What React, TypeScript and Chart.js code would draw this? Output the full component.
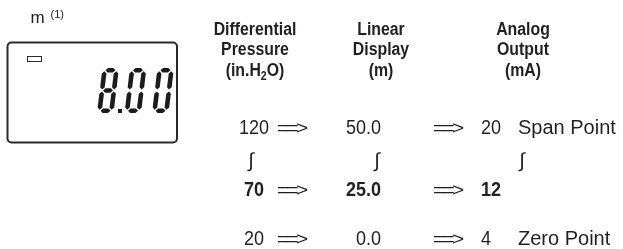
import React, { useEffect, useRef } from "react";
import { Chart, registerables } from "chart.js";

Chart.register(...registerables);

// ---- data ----
const HEADERS: string[][] = [
  ["Differential", "Pressure", "(in.H|2|O)"],
  ["Linear", "Display", "(m)"],
  ["Analog", "Output", "(mA)"],
];
const PRESSURE = [120, 70, 20];
const DISPLAY = [50.0, 25.0, 0.0];
const OUTPUT = [20, 12, 4];
const POINT_LABELS = ["Span Point", "", "Zero Point"];
const BOLD_ROWS = [false, true, false];
const LCD_READING = "8.00";
const UNIT_LABEL = "m";
const UNIT_NOTE = "(1)";
const ARROW = "==>";
const RANGE_MARK = "\u222B";

// ---- layout (pixel space of the hidden scales) ----
const W = 623;
const H = 249;
const HEADER_CX = [255, 381, 523];
const HEADER_BASE = [35, 55, 76];
const ROW_BASE = [134, 196, 245];
const RANGE_Y = 161;
const RANGE_X = [251, 377, 522];
const ARROW_X = [277, 433];
const COL1_CX = 254;
const COL2_RIGHT = 381;
const COL3_LEFT = 481;
const LABEL_LEFT = 518;
const TEXT = "#231f20";
const SANS = '"Liberation Sans", Arial, Helvetica, sans-serif';
const NUM_SQUEEZE = 0.9;

const SEGMAP: Record<string, string> = {
  "0": "abcdef",
  "1": "bc",
  "2": "abged",
  "3": "abgcd",
  "4": "fgbc",
  "5": "afgcd",
  "6": "afgedc",
  "7": "abc",
  "8": "abcdefg",
  "9": "abcdfg",
};

function drawDigit(
  ctx: CanvasRenderingContext2D,
  ch: string,
  x: number,
  y: number,
  w: number,
  h: number,
  t: number,
  skew: number
) {
  const segs = SEGMAP[ch] || "";
  const g = 1.0;
  const P = (u: number, v: number): [number, number] => [x + u + skew * (1 - v / h), y + v];
  const poly = (pts: [number, number][]) => {
    ctx.beginPath();
    pts.forEach(([u, v], i) => {
      const [px, py] = P(u, v);
      if (i === 0) ctx.moveTo(px, py);
      else ctx.lineTo(px, py);
    });
    ctx.closePath();
    ctx.fill();
  };
  const hseg = (vc: number) => {
    const u0 = t / 2 + g;
    const u1 = w - t / 2 - g;
    poly([
      [u0, vc],
      [u0 + t / 2, vc - t / 2],
      [u1 - t / 2, vc - t / 2],
      [u1, vc],
      [u1 - t / 2, vc + t / 2],
      [u0 + t / 2, vc + t / 2],
    ]);
  };
  const vseg = (uc: number, v0: number, v1: number) => {
    poly([
      [uc, v0],
      [uc + t / 2, v0 + t / 2],
      [uc + t / 2, v1 - t / 2],
      [uc, v1],
      [uc - t / 2, v1 - t / 2],
      [uc - t / 2, v0 + t / 2],
    ]);
  };
  const top = t / 2;
  const mid = h / 2;
  const bot = h - t / 2;
  if (segs.includes("a")) hseg(top);
  if (segs.includes("g")) hseg(mid);
  if (segs.includes("d")) hseg(bot);
  if (segs.includes("f")) vseg(t / 2, top + g, mid - g);
  if (segs.includes("b")) vseg(w - t / 2, top + g, mid - g);
  if (segs.includes("e")) vseg(t / 2, mid + g, bot - g);
  if (segs.includes("c")) vseg(w - t / 2, mid + g, bot - g);
}

function squeezedText(
  ctx: CanvasRenderingContext2D,
  text: string,
  x: number,
  y: number,
  align: "left" | "center" | "right",
  sx: number
) {
  const w = ctx.measureText(text).width * sx;
  const left = align === "left" ? x : align === "center" ? x - w / 2 : x - w;
  ctx.save();
  ctx.translate(left, y);
  ctx.scale(sx, 1);
  ctx.textAlign = "left";
  ctx.fillText(text, 0, 0);
  ctx.restore();
}

const diagramPlugin = {
  id: "diagram",
  afterDraw(chart: any) {
    const ctx: CanvasRenderingContext2D = chart.ctx;
    const xs = chart.scales.x;
    const ys = chart.scales.y;
    const X = (v: number) => xs.getPixelForValue(v);
    const Y = (v: number) => ys.getPixelForValue(v);
    ctx.save();
    ctx.fillStyle = TEXT;
    ctx.strokeStyle = TEXT;

    // unit label above LCD
    ctx.textBaseline = "alphabetic";
    ctx.textAlign = "left";
    ctx.font = `17px ${SANS}`;
    ctx.fillText(UNIT_LABEL, X(30.5), Y(23));
    ctx.font = `11px ${SANS}`;
    ctx.fillText(UNIT_NOTE, X(50.5), Y(18));

    // LCD frame
    ctx.lineWidth = 2;
    ctx.strokeStyle = "#2a2a2a";
    ctx.beginPath();
    (ctx as any).roundRect(X(7.5), Y(42.5), X(177) - X(7.5), Y(142.5) - Y(42.5), 4);
    ctx.stroke();
    ctx.lineWidth = 1;
    ctx.strokeRect(X(27.5), Y(56.5), X(41.5) - X(27.5), Y(61.5) - Y(56.5));

    // LCD digits
    ctx.fillStyle = "#1c1c1c";
    const dh = Y(113) - Y(68);
    let dx = X(97);
    const pitch = 27.5;
    for (const ch of LCD_READING) {
      if (ch === ".") {
        ctx.fillRect(dx - 6.5, Y(109), 4, 4);
        continue;
      }
      drawDigit(ctx, ch, dx, Y(68), 16.5, dh, 4.6, 5.5);
      dx += pitch;
    }

    // headers
    ctx.fillStyle = TEXT;
    const hfont = (s: number) => `bold ${s}px ${SANS}`;
    const squeeze = 0.88;
    HEADERS.forEach((lines, ci) => {
      lines.forEach((line, li) => {
        const parts = line.split("|");
        const sizes = parts.map((_, pi) => (pi === 1 ? 12 : 18));
        const offs = parts.map((_, pi) => (pi === 1 ? 4 : 0));
        const widths = parts.map((p, pi) => {
          ctx.font = hfont(sizes[pi]);
          return ctx.measureText(p).width;
        });
        const total = widths.reduce((a, b) => a + b, 0) * squeeze;
        ctx.save();
        ctx.translate(X(HEADER_CX[ci]) - total / 2, Y(HEADER_BASE[li]));
        ctx.scale(squeeze, 1);
        ctx.textAlign = "left";
        let cx = 0;
        parts.forEach((p, pi) => {
          ctx.font = hfont(sizes[pi]);
          ctx.fillText(p, cx, offs[pi]);
          cx += widths[pi];
        });
        ctx.restore();
      });
    });

    // rows
    const reg = `20px ${SANS}`;
    const bold = `bold 20px ${SANS}`;
    PRESSURE.forEach((p, ri) => {
      const yb = Y(ROW_BASE[ri]);
      ctx.font = BOLD_ROWS[ri] ? bold : reg;
      squeezedText(ctx, String(p), X(COL1_CX), yb, "center", NUM_SQUEEZE);
      squeezedText(ctx, DISPLAY[ri].toFixed(1), X(COL2_RIGHT), yb, "right", NUM_SQUEEZE);
      squeezedText(ctx, String(OUTPUT[ri]), X(COL3_LEFT), yb, "left", NUM_SQUEEZE);
      ctx.font = reg;
      ctx.textAlign = "left";
      if (POINT_LABELS[ri]) ctx.fillText(POINT_LABELS[ri], X(LABEL_LEFT), yb);
      // arrows: equals signs drawn tight so they join
      ARROW_X.forEach((ax) => {
        ctx.save();
        ctx.translate(X(ax), yb);
        ctx.scale(1.1, 1);
        (ctx as any).letterSpacing = "-2.5px";
        ctx.font = `19px ${SANS}`;
        ctx.fillText(ARROW, 0, 0);
        ctx.restore();
      });
    });

    // range marks
    ctx.font = `20px ${SANS}`;
    ctx.textAlign = "center";
    ctx.textBaseline = "middle";
    RANGE_X.forEach((rx) => ctx.fillText(RANGE_MARK, X(rx), Y(RANGE_Y)));

    ctx.restore();
  },
};

export default function App() {
  const ref = useRef<HTMLCanvasElement | null>(null);
  useEffect(() => {
    document.body.style.margin = "0";
    if (!ref.current) return;
    const chart = new Chart(ref.current, {
      type: "scatter",
      data: { datasets: [{ data: [], pointRadius: 0 }] },
      options: {
        responsive: false,
        animation: false,
        events: [],
        layout: { padding: 0 },
        plugins: { legend: { display: false }, tooltip: { enabled: false } },
        scales: {
          x: { type: "linear", min: 0, max: W, display: false },
          y: { type: "linear", min: 0, max: H, reverse: true, display: false },
        },
      },
      plugins: [diagramPlugin],
    } as any);
    return () => chart.destroy();
  }, []);
  return (
    <div style={{ width: W, height: H, background: "#fff" }}>
      <canvas ref={ref} width={W} height={H} style={{ display: "block" }} />
    </div>
  );
}
